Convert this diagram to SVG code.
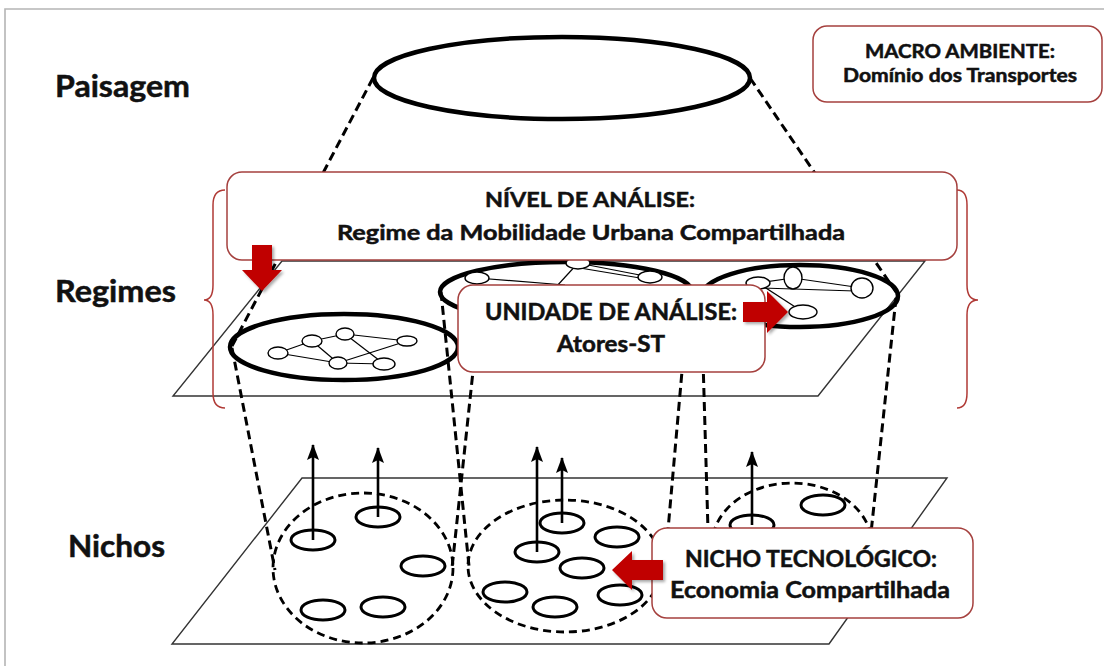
<svg xmlns="http://www.w3.org/2000/svg" width="1104" height="666" viewBox="0 0 1104 666">
  <defs>
    <style>
      .lbl { font-family: Lato, "Liberation Sans", sans-serif; font-weight: bold; fill: #111; stroke: #111; stroke-width: 0.5; }
      .box { fill: #fff; stroke: #a5403e; stroke-width: 1.5; }
      .dash { fill: none; stroke: #000; stroke-width: 3; stroke-dasharray: 9 5; }
      .gdash { fill: none; stroke: #000; stroke-width: 2.8; stroke-dasharray: 8 5; }
      .ring { fill: none; stroke: #000; stroke-width: 4.5; }
      .node { fill: #fff; stroke: #000; stroke-width: 1.4; }
      .edge { stroke: #000; stroke-width: 1.2; }
      .cell { fill: #fff; stroke: #000; stroke-width: 3; }
      .plane { fill: none; stroke: #333; stroke-width: 1.4; }
      .brace { fill: none; stroke: #b03a36; stroke-width: 1.5; }
      .red { fill: #c00000; filter: url(#sh); }
      .up { stroke: #000; stroke-width: 2.6; marker-end: url(#head); }
    </style>
    <marker id="head" viewBox="0 0 16 12" refX="15" refY="6" markerWidth="16" markerHeight="12" markerUnits="userSpaceOnUse" orient="auto">
      <path d="M0,0 L16,6 L0,12 L3,6 z" fill="#000"/>
    </marker>
    <filter id="sh" x="-30%" y="-30%" width="160%" height="160%">
      <feDropShadow dx="2" dy="2" stdDeviation="1.5" flood-color="#000" flood-opacity="0.35"/>
    </filter>
  </defs>

  <rect width="1104" height="666" fill="#fff"/>
  <path d="M5,666 L5,9 L1104,9" fill="none" stroke="#b5b5b5" stroke-width="1.6"/>

  <!-- level labels -->
  <g id="label-paisagem"><text class="lbl" x="55" y="97" font-size="30" textLength="135" lengthAdjust="spacingAndGlyphs">Paisagem</text></g>
  <g id="label-regimes"><text class="lbl" x="55" y="302" font-size="30" textLength="121" lengthAdjust="spacingAndGlyphs">Regimes</text></g>
  <g id="label-nichos"><text class="lbl" x="68" y="557" font-size="30" textLength="97" lengthAdjust="spacingAndGlyphs">Nichos</text></g>

  <!-- planes -->
  <g id="regime-plane"><polygon class="plane" points="282,261 925,261 818,396 173,396"/></g>
  <g id="niche-plane"><polygon class="plane" points="302,478 947,478 829,644 172,644"/></g>

  <!-- landscape -->
  <g id="paisagem"><ellipse class="ring" cx="562" cy="78" rx="188" ry="41"/></g>

  <!-- regimes -->
  <g id="regime-left">
    <ellipse class="ring" cx="344" cy="347" rx="114" ry="33"/>
    <g class="edge">
      <line x1="278" y1="353" x2="312" y2="341"/>
      <line x1="312" y1="341" x2="345" y2="334"/>
      <line x1="345" y1="334" x2="407" y2="341"/>
      <line x1="312" y1="341" x2="338" y2="363"/>
      <line x1="345" y1="334" x2="384" y2="364"/>
      <line x1="338" y1="363" x2="407" y2="341"/>
      <line x1="278" y1="353" x2="338" y2="363"/>
      <line x1="338" y1="363" x2="384" y2="364"/>
    </g>
    <ellipse class="node" cx="278" cy="353" rx="10" ry="6"/>
    <ellipse class="node" cx="312" cy="341" rx="10" ry="6"/>
    <ellipse class="node" cx="345" cy="334" rx="9" ry="6"/>
    <ellipse class="node" cx="407" cy="341" rx="10" ry="5"/>
    <ellipse class="node" cx="338" cy="363" rx="9" ry="6"/>
    <ellipse class="node" cx="384" cy="364" rx="11" ry="6"/>
  </g>
  <g id="regime-middle">
    <ellipse class="ring" cx="566" cy="292" rx="126" ry="30"/>
    <g class="edge">
      <line x1="477" y1="278" x2="565" y2="285"/>
      <line x1="578" y1="263" x2="556" y2="287"/>
      <line x1="578" y1="263" x2="650" y2="277"/>
      <line x1="580" y1="268" x2="640" y2="278"/>
    </g>
    <ellipse class="node" cx="477" cy="278" rx="12" ry="6"/>
    <ellipse class="node" cx="578" cy="263" rx="12" ry="6"/>
    <ellipse class="node" cx="650" cy="277" rx="12" ry="6"/>
  </g>
  <g id="regime-right">
    <ellipse class="ring" cx="800" cy="296" rx="98" ry="31"/>
    <g class="edge">
      <line x1="758" y1="283" x2="793" y2="278"/>
      <line x1="793" y1="278" x2="862" y2="288"/>
      <line x1="758" y1="283" x2="803" y2="312"/>
      <line x1="762" y1="288" x2="855" y2="291"/>
    </g>
    <ellipse class="node" cx="758" cy="283" rx="12" ry="6"/>
    <ellipse class="node" cx="793" cy="278" rx="9" ry="11"/>
    <ellipse class="node" cx="862" cy="288" rx="11" ry="10"/>
    <ellipse class="node" cx="803" cy="312" rx="14" ry="7"/>
  </g>

  <!-- niches -->
  <g id="niche-left">
    <ellipse class="gdash" cx="363" cy="568" rx="90" ry="75"/>
    <ellipse class="cell" cx="313" cy="540" rx="22" ry="10"/>
    <ellipse class="cell" cx="378" cy="517" rx="22" ry="10"/>
    <ellipse class="cell" cx="423" cy="566" rx="22" ry="10"/>
    <ellipse class="cell" cx="323" cy="610" rx="22" ry="10"/>
    <ellipse class="cell" cx="383" cy="607" rx="22" ry="10"/>
    <line class="up" x1="313" y1="540" x2="313" y2="445"/>
    <line class="up" x1="378" y1="517" x2="378" y2="448"/>
  </g>
  <g id="niche-middle">
    <ellipse class="gdash" cx="565" cy="566" rx="97" ry="66"/>
    <ellipse class="cell" cx="537" cy="552" rx="22" ry="10"/>
    <ellipse class="cell" cx="562" cy="523" rx="22" ry="10"/>
    <ellipse class="cell" cx="617" cy="537" rx="22" ry="10"/>
    <ellipse class="cell" cx="582" cy="568" rx="22" ry="10"/>
    <ellipse class="cell" cx="505" cy="592" rx="22" ry="10"/>
    <ellipse class="cell" cx="555" cy="607" rx="22" ry="10"/>
    <ellipse class="cell" cx="620" cy="595" rx="22" ry="10"/>
    <line class="up" x1="537" y1="552" x2="537" y2="447"/>
    <line class="up" x1="562" y1="523" x2="562" y2="458"/>
  </g>
  <g id="niche-right">
    <ellipse class="gdash" cx="792" cy="545" rx="80" ry="62"/>
    <ellipse class="cell" cx="752" cy="525" rx="22" ry="10"/>
    <ellipse class="cell" cx="823" cy="505" rx="22" ry="10"/>
    <line class="up" x1="752" y1="525" x2="752" y2="452"/>
  </g>

  <!-- dashed projections between levels -->
  <g id="connectors">
    <line class="dash" x1="373" y1="78" x2="232" y2="346"/>
    <line class="dash" x1="750" y1="78" x2="896" y2="292"/>
    <line class="dash" x1="232" y1="348" x2="275" y2="570"/>
    <line class="dash" x1="474" y1="362" x2="452" y2="568"/>
    <line class="dash" x1="441" y1="292" x2="469" y2="566"/>
    <line class="dash" x1="683" y1="360" x2="668" y2="530"/>
    <line class="dash" x1="703" y1="360" x2="708" y2="530"/>
    <line class="dash" x1="896" y1="298" x2="871" y2="533"/>
  </g>

  <!-- braces spanning the regime level -->
  <g id="braces">
    <path class="brace" d="M225,190 Q213,190 213,205 L213,285 Q213,300 204,300 Q213,300 213,315 L213,393 Q213,408 225,408"/>
    <path class="brace" d="M957,190 Q967,190 967,205 L967,285 Q967,300 978,300 Q967,300 967,315 L967,393 Q967,408 957,408"/>
  </g>

  <!-- callouts -->
  <g id="macro-ambiente">
    <rect class="box" x="813" y="26" width="289" height="76" rx="14"/>
    <text class="lbl" x="960" y="58" font-size="18" text-anchor="middle" textLength="190" lengthAdjust="spacingAndGlyphs">MACRO AMBIENTE:</text>
    <text class="lbl" x="960" y="82" font-size="18" text-anchor="middle" textLength="234" lengthAdjust="spacingAndGlyphs">Domínio dos Transportes</text>
  </g>
  <g id="nivel-analise">
    <rect class="box" x="227" y="172" width="730" height="88" rx="15"/>
    <text class="lbl" x="590" y="207" font-size="21" text-anchor="middle" textLength="210" lengthAdjust="spacingAndGlyphs">NÍVEL DE ANÁLISE:</text>
    <text class="lbl" x="591" y="240" font-size="21" text-anchor="middle" textLength="508" lengthAdjust="spacingAndGlyphs">Regime da Mobilidade Urbana Compartilhada</text>
    <polygon class="red" points="252,245 272,245 272,270 282,270 262,291 242,270 252,270"/>
  </g>
  <g id="unidade-analise">
    <rect class="box" x="458" y="285" width="307" height="87" rx="15"/>
    <text class="lbl" x="611" y="320" font-size="23" text-anchor="middle" textLength="252" lengthAdjust="spacingAndGlyphs">UNIDADE DE ANÁLISE:</text>
    <text class="lbl" x="611" y="352" font-size="23" text-anchor="middle" textLength="108" lengthAdjust="spacingAndGlyphs">Atores-ST</text>
    <polygon class="red" points="743,302 767,302 767,291 788,312 767,333 767,322 743,322"/>
  </g>
  <g id="nicho-tecnologico">
    <rect class="box" x="652" y="528" width="321" height="90" rx="15"/>
    <text class="lbl" x="811" y="567" font-size="22" text-anchor="middle" textLength="252" lengthAdjust="spacingAndGlyphs">NICHO TECNOLÓGICO:</text>
    <text class="lbl" x="810" y="598" font-size="22" text-anchor="middle" textLength="280" lengthAdjust="spacingAndGlyphs">Economia Compartilhada</text>
    <polygon class="red" points="663,560 632,560 632,551 612,570 632,590 632,580 663,580"/>
  </g>
</svg>
